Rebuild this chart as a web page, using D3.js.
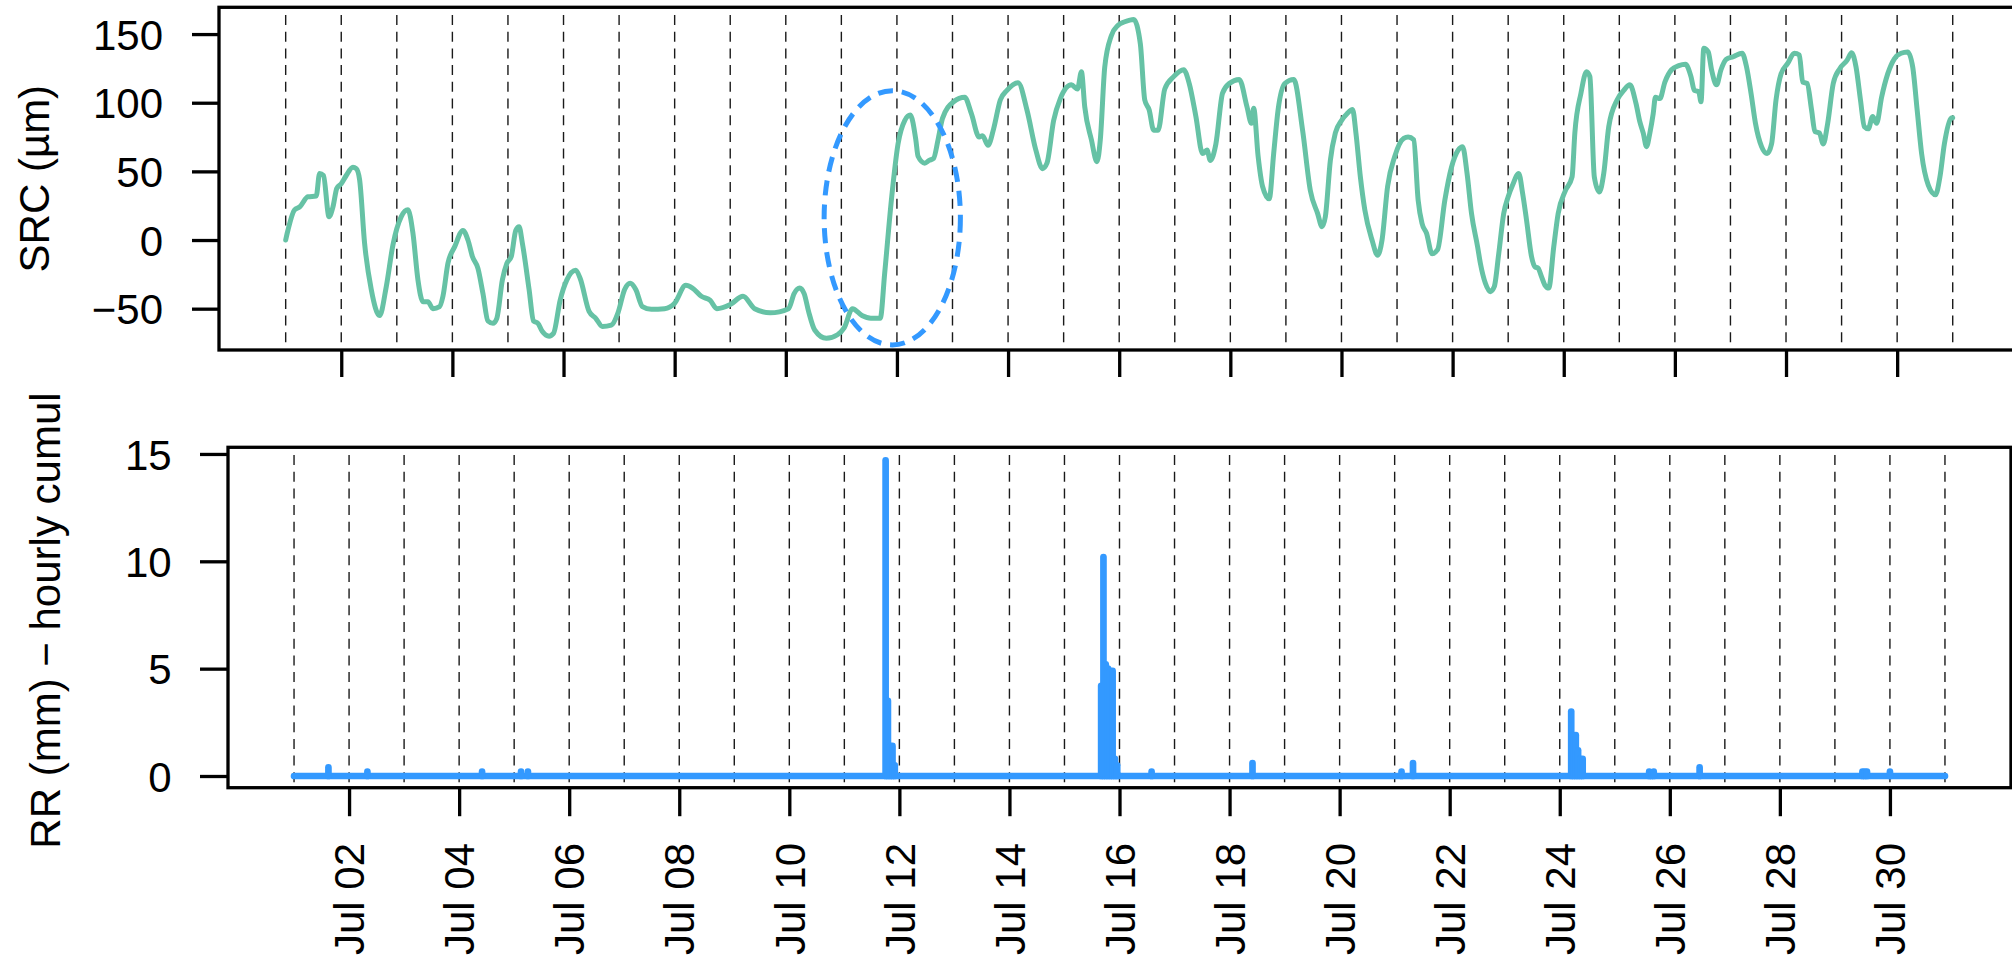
<!DOCTYPE html>
<html>
<head>
<meta charset="utf-8">
<script src="https://cdn.jsdelivr.net/npm/d3@7"></script>
<style>
  html, body { margin: 0; padding: 0; background: #ffffff; }
  svg { display: block; }
  text { font-family: "Liberation Sans", Arial, Helvetica, sans-serif; fill: #000; }
</style>
</head>
<body>
<svg id="chart" width="2012" height="959"></svg>
<script>
// ---------------- DATA ----------------
const seriesStart = "2021-07-01T00:00:00Z";
const seriesEnd   = "2021-07-31T00:00:00Z";

// SRC (µm): elapsed days since Jul 01 00:00, and values
const srcElapsedDays = [
  0.00,0.04,0.16,0.25,0.40,0.55,0.61,0.68,0.78,0.85,0.92,
  1.00,1.09,1.21,1.27,1.33,1.42,1.54,1.69,1.81,1.93,
  2.08,2.20,2.29,2.38,2.47,2.56,2.65,2.77,2.83,2.92,
  3.04,3.19,3.28,3.36,3.46,3.55,3.64,3.73,3.80,3.90,3.98,
  4.06,4.14,4.20,4.26,4.38,4.46,4.54,4.62,4.74,4.82,4.94,
  5.06,5.22,5.30,5.46,5.58,5.70,5.86,5.98,
  6.10,6.20,6.30,6.42,6.58,6.82,
  7.00,7.20,7.32,7.48,7.64,7.76,
  8.00,8.23,8.44,8.72,
  9.05,9.15,9.25,9.33,9.41,9.52,9.73,9.93,
  10.05,10.20,10.37,10.53,10.70,10.78,10.90,
  11.02,11.14,11.24,11.34,11.38,11.50,11.58,11.66,11.74,11.82,
  12.02,12.22,12.34,12.48,12.54,12.64,12.74,12.86,12.98,
  13.18,13.34,13.50,13.62,13.70,13.82,13.94,
  14.14,14.25,14.32,14.38,14.50,14.60,14.66,14.74,14.86,14.98,
  15.10,15.26,15.38,15.46,15.54,15.62,15.70,15.82,15.98,
  16.16,16.26,16.38,16.50,16.58,16.64,16.74,16.86,16.98,
  17.16,17.30,17.38,17.42,17.50,17.58,17.70,17.78,17.86,17.98,
  18.14,18.30,18.44,18.57,18.65,18.71,18.80,18.89,
  19.00,19.10,19.20,19.26,19.34,19.42,19.55,19.65,19.73,19.83,19.96,
  20.12,20.20,20.30,20.38,20.45,20.53,20.63,20.73,20.86,20.98,
  21.10,21.18,21.26,21.34,21.45,21.50,21.59,21.68,21.75,21.83,21.92,
  22.00,22.08,22.19,22.26,22.33,22.42,22.48,22.54,22.60,22.66,22.73,22.82,22.90,
  23.03,23.15,23.20,23.31,23.41,23.47,23.55,23.64,23.72,23.81,23.96,
  24.08,24.19,24.30,24.37,24.43,24.49,24.55,24.61,24.65,24.73,24.82,24.94,
  25.07,25.19,25.29,25.35,25.43,25.47,25.52,25.60,25.66,25.75,25.83,25.92,
  26.05,26.21,26.29,26.37,26.45,26.56,26.66,26.74,26.82,26.91,
  27.03,27.15,27.24,27.30,27.38,27.46,27.52,27.60,27.67,27.75,27.85,27.97,
  28.10,28.18,28.26,28.34,28.41,28.48,28.56,28.63,28.72,28.83,28.95,
  29.07,29.19,29.28,29.36,29.44,29.56,29.69,29.77,29.85,29.97,30.00
];
const srcValues = [
  0,7,22,24,31.5,32,48.5,47,17,24,37.6,
  41,47,53,52,44,-2.4,-36,-55,-34,-3.6,
  17,22,5,-29,-45,-45,-50,-48.5,-41,-17,
  -5,7,0,-12,-20.6,-39,-59,-60.7,-57,-29,-17,
  -12,7,9.7,-2.4,-36,-59,-60.7,-66.7,-70,-68,-43.7,
  -29,-22,-28,-52,-57,-63,-62,-53,
  -36,-31.5,-36,-48.5,-50.5,-50,
  -46,-33,-35,-41,-44,-50,
  -47,-41,-50,-53,
  -50,-39,-35,-39,-52,-65.5,-71.6,-69,
  -64,-50,-55,-57,-57,-24,29,
  70,87,91,73,61,56,58,59.5,73,88.6,
  100.7,104,92,75,76,69,81,102,109,
  114.6,94.7,65.5,52,56,87,103,
  113,110,122.6,97,73,57,73,126,149,156.5,
  159,160.7,143,102,94.7,80,80,110,119,
  124,114,90,63,65.5,58,70,107,114,
  117,97,85,96,61,39,30,63,95,114,
  117,80,36,19.4,9.7,17,58,78,
  87,92,95,78,46,22,0,-11,0,39,61,
  74,75,73,29,12,5,-10,-7,29,53,
  65.5,68,48.5,19.4,-5,-17,-31.5,-37.6,-34,-10,19.4,
  31.5,40,48.5,34,14.6,-12,-19.4,-20.6,-26.7,-32.8,-35,-5,19.4,
  36,46,78,107,122.6,119,46,35,48.5,82.5,102,
  109,113,99.5,86,78,68,78,92,104,103,115,124,
  127,128,119,109,108,100.7,139.6,137,124,113,124,131.5,
  133.5,136,126,107,85,68,63,70,102,121,
  128.6,136,134.7,115,114,94.7,79,78,70,85,114,125,
  131,136.4,126,102,82.5,81,90,85,104,121,132,
  136,137,126,94.7,63,40,33,46,70,88.6,89
];

// Hourly rainfall (mm): non-zero hours only (all other hours are 0)
const rainDay   = [1, 2, 4, 5, 5, 11, 11, 11, 11, 11, 15, 15, 15, 15, 15, 15, 15, 15, 16, 18, 21, 21, 24, 24, 24, 24, 24, 24, 25, 25, 25, 26, 29, 29, 29, 30];
const rainHour  = [15, 8, 10, 3, 6, 18, 19, 20, 21, 22, 16, 17, 18, 19, 20, 21, 22, 23, 14, 10, 3, 8, 5, 6, 7, 8, 9, 10, 15, 16, 17, 13, 12, 13, 14, 0];
const rainValues= [0.4, 0.2, 0.2, 0.2, 0.2, 14.7, 3.5, 1.4, 1.4, 0.5, 4.2, 10.2, 5.2, 5.0, 4.9, 4.9, 0.8, 0.5, 0.2, 0.6, 0.2, 0.6, 3.0, 1.9, 1.9, 1.2, 0.8, 0.8, 0.2, 0.15, 0.2, 0.4, 0.2, 0.2, 0.2, 0.2];

// Axis ticks
const srcTicks  = [-50, 0, 50, 100, 150];
const rainTicks = [0, 5, 10, 15];
const xTickDays = [2, 4, 6, 8, 10, 12, 14, 16, 18, 20, 22, 24, 26, 28, 30];
const xTickLabels = ["Jul 02","Jul 04","Jul 06","Jul 08","Jul 10","Jul 12","Jul 14","Jul 16","Jul 18","Jul 20","Jul 22","Jul 24","Jul 26","Jul 28","Jul 30"];
const gridDays = [1,2,3,4,5,6,7,8,9,10,11,12,13,14,15,16,17,18,19,20,21,22,23,24,25,26,27,28,29,30,31];

// Annotation ellipse (data units)
const ellipseCenterDays = 10.916, ellipseCenterValue = 16.2;
const ellipseHalfWidthDays = 1.226, ellipseHalfHeightValue = 92.6;

// Axis domains (as in the picture)
const srcDomain  = [-80.1, 169.5];
const rainDomain = [-0.545, 15.31];

// ---------------- DRAWING ----------------
(function () {
const DAY = 864e5;
const t0 = new Date(seriesStart).getTime();
const t1 = new Date(seriesEnd).getTime();
const pad = 0.04 * (t1 - t0);
const dateOfElapsed = d => new Date(t0 + d * DAY);
const dateOfJuly = (day, hour) => new Date(t0 + (day - 1) * DAY + (hour || 0) * 36e5);

const svg = d3.select("#chart");
svg.append("rect").attr("width", 2012).attr("height", 959).attr("fill", "#fff");

const pTop = { left: 219, right: 2019.4, top: 7.3, bottom: 350 };
const pBot = { left: 228, right: 2011, top: 447.3, bottom: 787.7 };

const xTop = d3.scaleUtc().domain([new Date(t0 - pad), new Date(t1 + pad)]).range([pTop.left, pTop.right]);
const yTop = d3.scaleLinear().domain(srcDomain).range([pTop.bottom, pTop.top]);
const xBot = d3.scaleUtc().domain([new Date(t0 - pad), new Date(t1 + pad)]).range([pBot.left, pBot.right]);
const yBot = d3.scaleLinear().domain(rainDomain).range([pBot.bottom, pBot.top]);

const FONT = 42, TICKW = 3.3;

const defs = svg.append("defs");
defs.append("clipPath").attr("id", "clipTop").append("rect")
  .attr("x", pTop.left).attr("y", pTop.top).attr("width", pTop.right - pTop.left).attr("height", pTop.bottom - pTop.top);
defs.append("clipPath").attr("id", "clipBot").append("rect")
  .attr("x", pBot.left).attr("y", pBot.top).attr("width", pBot.right - pBot.left).attr("height", pBot.bottom - pBot.top);

function gridLines(g, x, p) {
  g.selectAll("line.grid").data(gridDays).join("line")
    .attr("class", "grid")
    .attr("x1", d => x(dateOfJuly(d))).attr("x2", d => x(dateOfJuly(d)))
    .attr("y1", p.top + 7.7).attr("y2", p.bottom)
    .attr("stroke", "#1a1a1a").attr("stroke-width", 1.4)
    .attr("stroke-dasharray", "10,6.7");
}

// ---- top panel ----
const gTop = svg.append("g");
gridLines(gTop, xTop, pTop);

const srcData = srcElapsedDays.map((d, i) => ({ date: dateOfElapsed(d), v: srcValues[i] }));
gTop.append("path").datum(srcData)
  .attr("clip-path", "url(#clipTop)")
  .attr("fill", "none").attr("stroke", "#66C2A5").attr("stroke-width", 5)
  .attr("stroke-linejoin", "round").attr("stroke-linecap", "round")
  .attr("d", d3.line().x(d => xTop(d.date)).y(d => yTop(d.v)).curve(d3.curveMonotoneX));

const ecx = xTop(dateOfElapsed(ellipseCenterDays));
const erx = xTop(dateOfElapsed(ellipseCenterDays + ellipseHalfWidthDays)) - ecx;
const ecy = yTop(ellipseCenterValue);
const ery = yTop(ellipseCenterValue - ellipseHalfHeightValue) - ecy;
gTop.append("ellipse")
  .attr("cx", ecx).attr("cy", ecy).attr("rx", erx).attr("ry", ery)
  .attr("fill", "none").attr("stroke", "#3399FF").attr("stroke-width", 5)
  .attr("stroke-dasharray", "15,9");

gTop.append("rect").attr("x", pTop.left).attr("y", pTop.top)
  .attr("width", pTop.right - pTop.left).attr("height", pTop.bottom - pTop.top)
  .attr("fill", "none").attr("stroke", "#000").attr("stroke-width", TICKW);

const yAxT = svg.append("g").attr("transform", `translate(${pTop.left},0)`)
  .call(d3.axisLeft(yTop).tickValues(srcTicks).tickSize(27).tickPadding(29));
yAxT.select(".domain").remove();
yAxT.selectAll(".tick line").attr("stroke-width", TICKW);
yAxT.selectAll(".tick text").attr("font-size", FONT).attr("dy", "0.36em")
  .style("font-family", '"Liberation Sans", Arial, sans-serif');

const xAxT = svg.append("g").attr("transform", `translate(0,${pTop.bottom})`)
  .call(d3.axisBottom(xTop).tickValues(xTickDays.map(d => dateOfJuly(d))).tickSize(27).tickFormat(""));
xAxT.select(".domain").remove();
xAxT.selectAll(".tick line").attr("stroke-width", TICKW);

svg.append("text").attr("transform", `translate(49,${(pTop.top + pTop.bottom) / 2}) rotate(-90)`)
  .attr("text-anchor", "middle").attr("font-size", FONT).text("SRC (µm)");

// ---- bottom panel ----
const gBot = svg.append("g");
gridLines(gBot, xBot, pBot);

const rainColor = "#3399FF", rainW = 6.7;
const gRain = gBot.append("g").attr("clip-path", "url(#clipBot)");
gRain.append("line")
  .attr("x1", xBot(new Date(t0))).attr("x2", xBot(new Date(t1)))
  .attr("y1", yBot(0)).attr("y2", yBot(0))
  .attr("stroke", rainColor).attr("stroke-width", rainW).attr("stroke-linecap", "round");
const rainData = rainDay.map((d, i) => ({ date: dateOfJuly(d, rainHour[i]), v: rainValues[i] }));
gRain.selectAll("line.rr").data(rainData).join("line")
  .attr("class", "rr")
  .attr("x1", d => xBot(d.date)).attr("x2", d => xBot(d.date))
  .attr("y1", yBot(0)).attr("y2", d => yBot(d.v))
  .attr("stroke", rainColor).attr("stroke-width", rainW).attr("stroke-linecap", "round");

gBot.append("rect").attr("x", pBot.left).attr("y", pBot.top)
  .attr("width", pBot.right - pBot.left).attr("height", pBot.bottom - pBot.top)
  .attr("fill", "none").attr("stroke", "#000").attr("stroke-width", TICKW);

const yAxB = svg.append("g").attr("transform", `translate(${pBot.left},0)`)
  .call(d3.axisLeft(yBot).tickValues(rainTicks).tickSize(28).tickPadding(28.3));
yAxB.select(".domain").remove();
yAxB.selectAll(".tick line").attr("stroke-width", TICKW);
yAxB.selectAll(".tick text").attr("font-size", FONT).attr("dy", "0.36em")
  .style("font-family", '"Liberation Sans", Arial, sans-serif');

const xAxB = svg.append("g").attr("transform", `translate(0,${pBot.bottom})`)
  .call(d3.axisBottom(xBot).tickValues(xTickDays.map(d => dateOfJuly(d))).tickSize(28.5)
    .tickFormat((d, i) => xTickLabels[i]));
xAxB.select(".domain").remove();
xAxB.selectAll(".tick line").attr("stroke-width", TICKW);
xAxB.selectAll(".tick text")
  .attr("transform", "rotate(-90)")
  .attr("x", -55.3).attr("y", 0).attr("dy", "0.35em")
  .attr("text-anchor", "end").attr("font-size", FONT)
  .style("font-family", '"Liberation Sans", Arial, sans-serif');

svg.append("text").attr("transform", `translate(60,${(pBot.top + pBot.bottom) / 2 + 3}) rotate(-90)`)
  .attr("text-anchor", "middle").attr("font-size", FONT).text("RR (mm) − hourly cumul");
})();
</script>
</body>
</html>
